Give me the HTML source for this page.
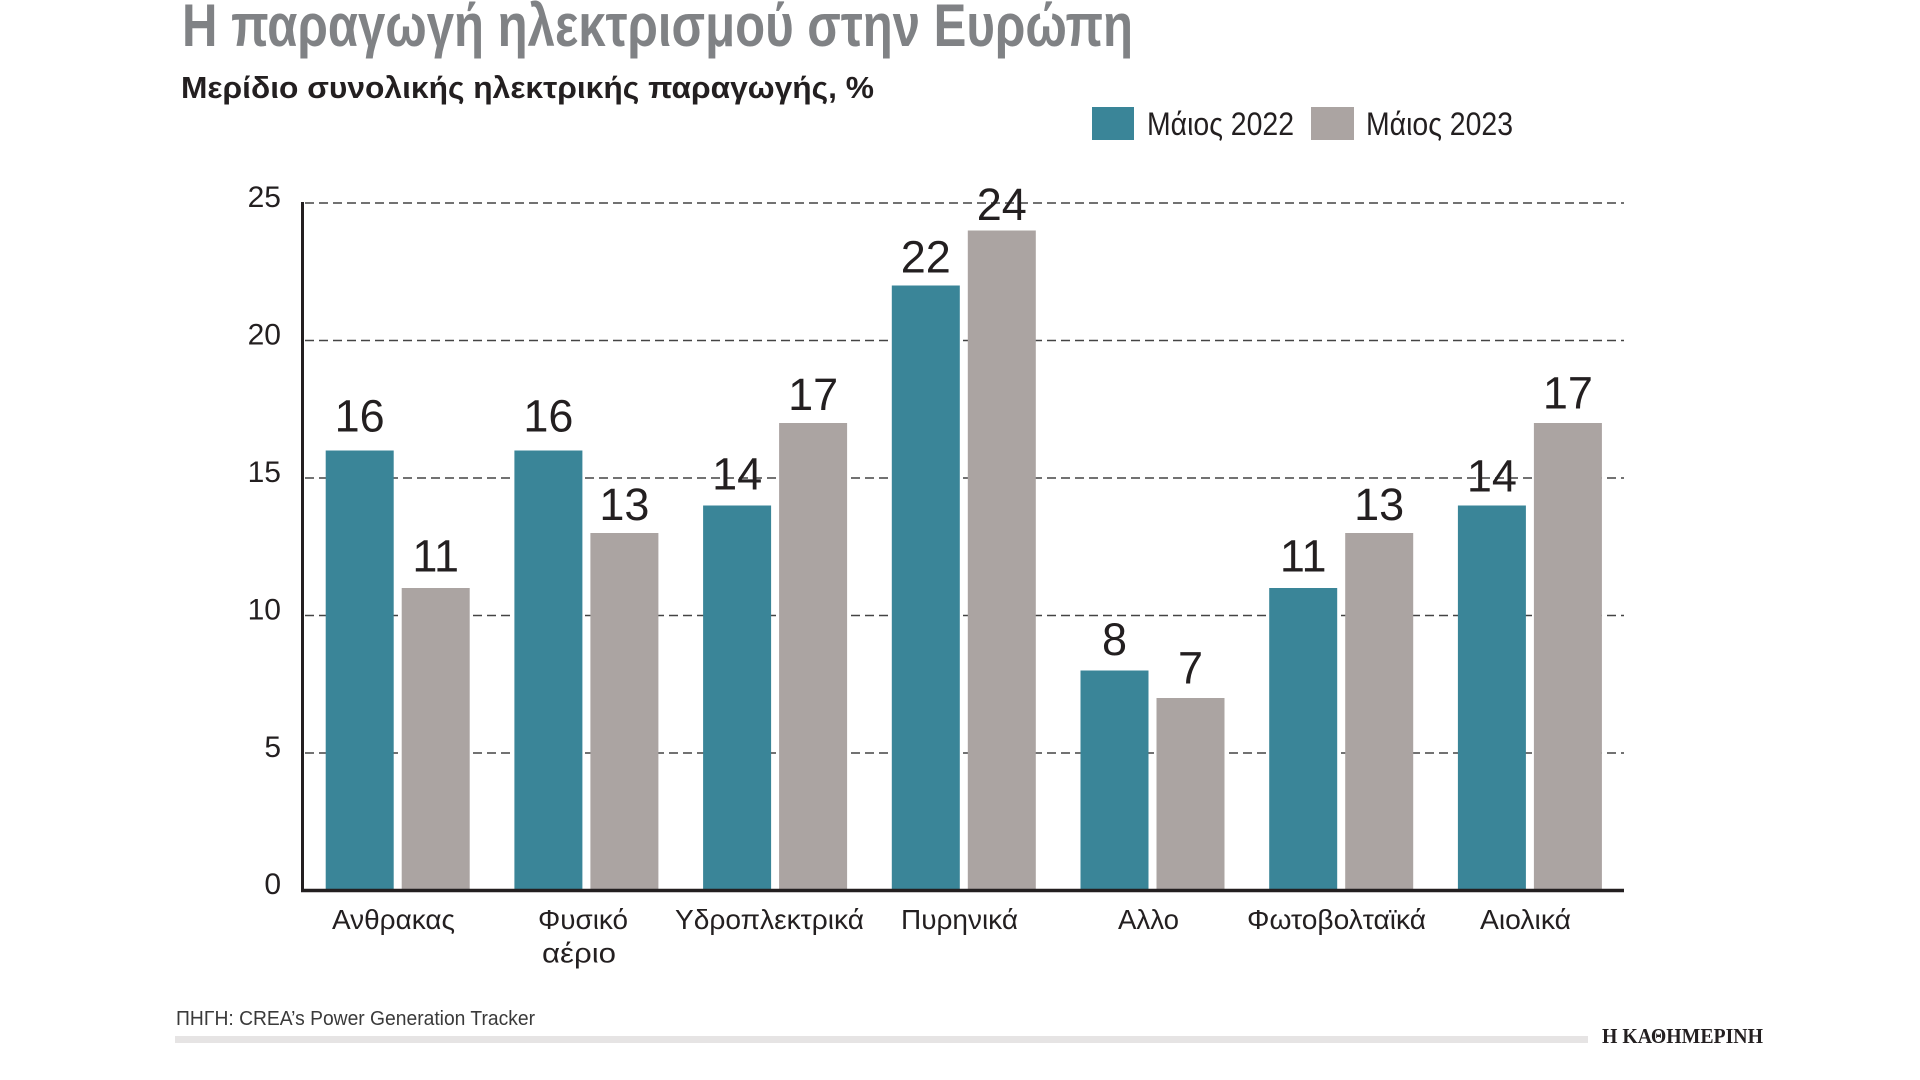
<!DOCTYPE html>
<html>
<head>
<meta charset="utf-8">
<style>
  html,body{margin:0;padding:0;background:#fff;}
  svg{display:block;}
  text{font-family:"Liberation Sans","DejaVu Sans",sans-serif;}
</style>
</head>
<body>
<svg width="1920" height="1080" viewBox="0 0 1920 1080" xmlns="http://www.w3.org/2000/svg">
  <rect width="1920" height="1080" fill="#ffffff"/>

  <!-- Title -->
  <text x="182" y="46" font-size="60" font-weight="bold" fill="#808285" textLength="951" lengthAdjust="spacingAndGlyphs">Η παραγωγή ηλεκτρισμού στην Ευρώπη</text>
  <!-- Subtitle -->
  <text x="181" y="98" font-size="31" font-weight="bold" fill="#231f20" textLength="693" lengthAdjust="spacingAndGlyphs">Μερίδιο συνολικής ηλεκτρικής παραγωγής, %</text>

  <!-- Legend -->
  <rect x="1092" y="107" width="42" height="33" fill="#3a8598"/>
  <text x="1147" y="135" font-size="32" fill="#231f20" textLength="147" lengthAdjust="spacingAndGlyphs">Μάιος 2022</text>
  <rect x="1311" y="107" width="43" height="33" fill="#aba4a2"/>
  <text x="1366" y="135" font-size="32" fill="#231f20" textLength="147" lengthAdjust="spacingAndGlyphs">Μάιος 2023</text>

  <!-- Gridlines -->
  <g stroke="#444444" stroke-width="1.4" stroke-dasharray="9 5" fill="none">
    <line x1="305" y1="203" x2="1624" y2="203"/>
    <line x1="305" y1="340.5" x2="1624" y2="340.5"/>
    <line x1="305" y1="478" x2="1624" y2="478"/>
    <line x1="305" y1="615.5" x2="1624" y2="615.5"/>
    <line x1="305" y1="753" x2="1624" y2="753"/>
  </g>

  <!-- Y tick labels -->
  <g font-size="30" fill="#231f20" text-anchor="end">
    <text x="281" y="207">25</text>
    <text x="281" y="344.5">20</text>
    <text x="281" y="482">15</text>
    <text x="281" y="619.5">10</text>
    <text x="281" y="757">5</text>
    <text x="281" y="894">0</text>
  </g>

  <!-- Bars: teal -->
  <g fill="#3a8598">
    <rect x="325.7" y="450.5" width="68" height="440"/>
    <rect x="514.4" y="450.5" width="68" height="440"/>
    <rect x="703.1" y="505.5" width="68" height="385"/>
    <rect x="891.8" y="285.5" width="68" height="605"/>
    <rect x="1080.5" y="670.5" width="68" height="220"/>
    <rect x="1269.2" y="588" width="68" height="302.5"/>
    <rect x="1457.9" y="505.5" width="68" height="385"/>
  </g>
  <!-- Bars: grey -->
  <g fill="#aba4a2">
    <rect x="401.7" y="588" width="68" height="302.5"/>
    <rect x="590.4" y="533" width="68" height="357.5"/>
    <rect x="779.1" y="423" width="68" height="467.5"/>
    <rect x="967.8" y="230.5" width="68" height="660"/>
    <rect x="1156.5" y="698" width="68" height="192.5"/>
    <rect x="1345.2" y="533" width="68" height="357.5"/>
    <rect x="1533.9" y="423" width="68" height="467.5"/>
  </g>

  <!-- Value labels -->
  <g font-size="45" fill="#231f20" text-anchor="middle">
    <text x="359.7" y="431.7">16</text>
    <text x="435.7" y="571.7">11</text>
    <text x="548.4" y="431.7">16</text>
    <text x="624.4" y="520">13</text>
    <text x="737.1" y="489.3">14</text>
    <text x="813.1" y="410">17</text>
    <text x="925.8" y="272.7">22</text>
    <text x="1001.8" y="220">24</text>
    <text x="1114.5" y="655">8</text>
    <text x="1190.5" y="683.3">7</text>
    <text x="1303.2" y="571.7">11</text>
    <text x="1379.2" y="520">13</text>
    <text x="1491.9" y="491.7">14</text>
    <text x="1567.9" y="408.3">17</text>
  </g>

  <!-- Axes -->
  <line x1="302.5" y1="202" x2="302.5" y2="892" stroke="#231f20" stroke-width="3"/>
  <line x1="301" y1="890.5" x2="1624" y2="890.5" stroke="#231f20" stroke-width="3.5"/>

  <!-- Category labels -->
  <g font-size="28" fill="#231f20">
    <text x="332" y="929" textLength="123" lengthAdjust="spacingAndGlyphs">Ανθρακας</text>
    <text x="538" y="929" textLength="90" lengthAdjust="spacingAndGlyphs">Φυσικό</text>
    <text x="542" y="962.5" textLength="74" lengthAdjust="spacingAndGlyphs">αέριο</text>
    <text x="675" y="929" textLength="189" lengthAdjust="spacingAndGlyphs">Υδροπλεκτρικά</text>
    <text x="901" y="929" textLength="117" lengthAdjust="spacingAndGlyphs">Πυρηνικά</text>
    <text x="1118" y="929" textLength="61" lengthAdjust="spacingAndGlyphs">Αλλο</text>
    <text x="1247" y="929" textLength="179" lengthAdjust="spacingAndGlyphs">Φωτοβολταϊκά</text>
    <text x="1480" y="929" textLength="91" lengthAdjust="spacingAndGlyphs">Αιολικά</text>
  </g>

  <!-- Source -->
  <text x="176" y="1025" font-size="20" fill="#3a3a3a" textLength="359" lengthAdjust="spacingAndGlyphs">ΠΗΓΗ: CREA’s Power Generation Tracker</text>
  <rect x="175" y="1036" width="1413" height="7" fill="#e6e4e4"/>
  <text x="1602" y="1043" style="font-family:'Liberation Serif','DejaVu Serif',serif;" font-size="21" font-weight="bold" fill="#231f20" textLength="161" lengthAdjust="spacingAndGlyphs">Η ΚΑΘΗΜΕΡΙΝΗ</text>
</svg>
</body>
</html>
